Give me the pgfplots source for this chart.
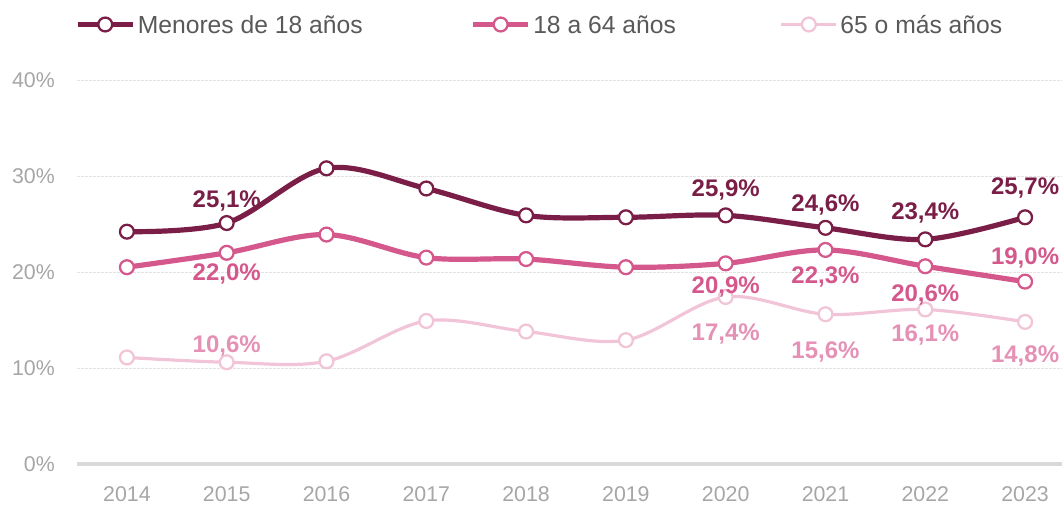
\documentclass[border=0pt]{standalone}
\usepackage{fontspec}
\setmainfont{Liberation Sans}
\usepackage{pgfplots}
\usepackage{pgfplotstable}
\pgfplotsset{compat=1.18}
\definecolor{cdark}{HTML}{7A1E48}
\definecolor{cmid}{HTML}{D4588C}
\definecolor{clight}{HTML}{F2C4D8}
\definecolor{clightlab}{HTML}{E591B6}
\definecolor{ctick}{HTML}{A6A6A6}
\definecolor{cleg}{HTML}{595959}
\definecolor{cgrid}{HTML}{E3E3E3}
\definecolor{caxis}{HTML}{D9D9D9}

\pgfplotstableread{
x y
2014 24.2
2015 25.1
2016 30.8
2017 28.7
2018 25.9
2019 25.7
2020 25.9
2021 24.6
2022 23.4
2023 25.7
}\menores
\pgfplotstableread{
x y
2014 20.5
2015 22.0
2016 23.9
2017 21.5
2018 21.35
2019 20.5
2020 20.9
2021 22.3
2022 20.6
2023 19.0
}\adultos
\pgfplotstableread{
x y
2014 11.1
2015 10.6
2016 10.7
2017 14.9
2018 13.8
2019 12.9
2020 17.4
2021 15.6
2022 16.1
2023 14.8
}\mayores
\pgfplotstableread{
x y dy lab
2015 25.1 16.5 25,1
2020 25.9 18.75 25,9
2021 24.6 17.25 24,6
2022 23.4 20 23,4
2023 25.7 21.75 25,7
}\labmenores
\pgfplotstableread{
x y dy lab
2015 22.0 -15.75 22,0
2020 20.9 -18 20,9
2021 22.3 -20 22,3
2022 20.6 -21.75 20,6
2023 19.0 18 19,0
}\labadultos
\pgfplotstableread{
x y dy lab
2015 10.6 12 10,6
2020 17.4 -27.75 17,4
2021 15.6 -28.5 15,6
2022 16.1 -19.5 16,1
2023 14.8 -25.5 14,8
}\labmayores

\begin{document}
\begin{tikzpicture}
\useasboundingbox (0,0) rectangle (796.5pt,378pt);
\begin{axis}[
  at={(57.75pt,30pt)}, anchor=south west,
  scale only axis, width=738.75pt, height=288pt,
  xmin=2013.5, xmax=2023.37, ymin=0, ymax=40,
  axis x line*=bottom, axis y line*=left,
  y axis line style={draw=none},
  x axis line style={draw=caxis, line width=3pt},
  major tick length=0pt,
  xtick={2014,2015,2016,2017,2018,2019,2020,2021,2022,2023},
  xticklabels={2014,2015,2016,2017,2018,2019,2020,2021,2022,2023},
  ytick={0,10,20,30,40},
  yticklabels={0\%,10\%,20\%,30\%,40\%},
  xticklabel style={font=\fontsize{16}{18}\selectfont, color=ctick, anchor=center, inner sep=0pt, yshift=-22.5pt},
  yticklabel style={font=\fontsize{16}{18}\selectfont, color=ctick, anchor=east, inner sep=0pt, xshift=-16.5pt},
  ymajorgrids,
  grid style={draw=cgrid, line width=0.6pt, dash pattern=on 2pt off 1pt},
  clip=false,
  legend columns=3,
  legend style={at={(-0.002,1.143)}, anchor=west, draw=none, fill=none, inner sep=0pt,
    font=\fontsize{18.5}{20}\selectfont, text=cleg,
    /tikz/column 2/.style={column sep=79pt},
    /tikz/column 4/.style={column sep=76pt},
    /tikz/every even column/.append style={anchor=base west}},
  legend image code/.code={
    \draw[#1, mark=none] (0pt,6.5pt) -- (41pt,6.5pt);
    \draw[#1, only marks] plot coordinates {(20.5pt,6.5pt)};
  },
  legend cell align=left,
  every axis plot/.append style={smooth, tension=0.55},
]
\addplot[cdark, line width=3.9pt, mark=*, mark size=5.2pt, mark options={fill=white, draw=cdark, line width=1.7pt, solid}] table {\menores};
\addlegendentry{Menores de 18 años}
\addplot[cmid, line width=3.9pt, mark=*, mark size=5.2pt, mark options={fill=white, draw=cmid, line width=1.7pt, solid}] table {\adultos};
\addlegendentry{18 a 64 años}
\addplot[clight, line width=2.4pt, mark=*, mark size=5.2pt, mark options={fill=white, draw=clight, line width=1.7pt, solid}] table {\mayores};
\addlegendentry{65 o más años}

\addplot[draw=none, mark=none, forget plot, point meta=explicit symbolic,
  visualization depends on={\thisrow{dy} \as \dy},
  nodes near coords={\pgfplotspointmeta\%},
  every node near coord/.append style={anchor=center, yshift=\dy, text=cdark, font=\bfseries\fontsize{18}{19}\selectfont, inner sep=0pt}]
  table[meta=lab] {\labmenores};
\addplot[draw=none, mark=none, forget plot, point meta=explicit symbolic,
  visualization depends on={\thisrow{dy} \as \dy},
  nodes near coords={\pgfplotspointmeta\%},
  every node near coord/.append style={anchor=center, yshift=\dy, text=cmid, font=\bfseries\fontsize{18}{19}\selectfont, inner sep=0pt}]
  table[meta=lab] {\labadultos};
\addplot[draw=none, mark=none, forget plot, point meta=explicit symbolic,
  visualization depends on={\thisrow{dy} \as \dy},
  nodes near coords={\pgfplotspointmeta\%},
  every node near coord/.append style={anchor=center, yshift=\dy, text=clightlab, font=\bfseries\fontsize{18}{19}\selectfont, inner sep=0pt}]
  table[meta=lab] {\labmayores};
\end{axis}
\end{tikzpicture}
\end{document}
